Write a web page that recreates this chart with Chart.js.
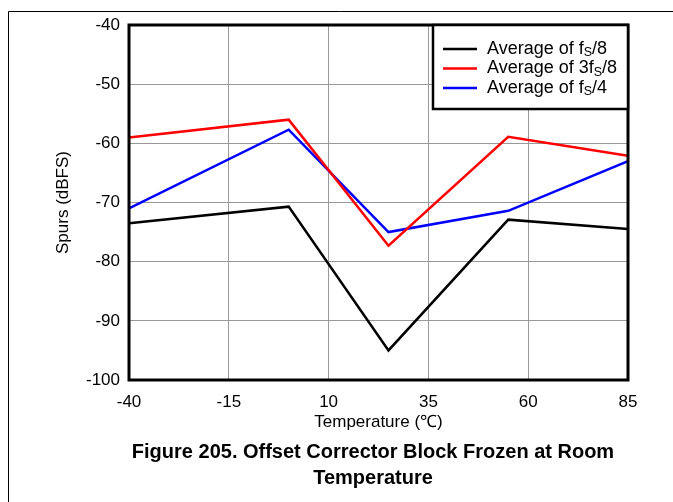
<!DOCTYPE html>
<html>
<head>
<meta charset="utf-8">
<script src="https://cdn.jsdelivr.net/npm/chart.js@4"></script>
<style>
  body { margin: 0; background: #fff; }
  canvas { display: block; }
</style>
</head>
<body>
<canvas id="chart" width="673" height="502"></canvas>
<script>
// temperatures (deg C) and averaged spur levels (dBFS)
const temps = [-40, 0, 25, 55, 85];
const fs8 = [-73.5, -70.7, -95.0, -72.9, -74.5];
const fs38 = [-59.0, -56.0, -77.3, -58.9, -62.1];
const fs4 = [-71.0, -57.7, -75.0, -71.4, -63.0];

// "_S" marks the subscript S in the legend text
const seriesLabels = ['Average of f_S/8', 'Average of 3f_S/8', 'Average of f_S/4'];
const seriesColors = ['#000000', '#ff0000', '#0000ff'];
const xTicks = [-40, -15, 10, 35, 60, 85];
const captionLines = ['Figure 205. Offset Corrector Block Frozen at Room', 'Temperature'];

const FONT = 'Arial, "Liberation Sans", sans-serif';

const toPoints = ys => temps.map((t, i) => ({ x: t, y: ys[i] }));

const frame = {
  id: 'frame',
  beforeDraw(chart) {
    const ctx = chart.ctx;
    ctx.save();
    ctx.fillStyle = '#fff';
    ctx.fillRect(0, 0, chart.width, chart.height);
    ctx.strokeStyle = '#000';
    ctx.lineWidth = 1;
    ctx.beginPath();
    ctx.moveTo(8.5, chart.height);
    ctx.lineTo(8.5, 11.5);
    ctx.lineTo(chart.width, 11.5);
    ctx.stroke();
    ctx.restore();
  },
  afterDatasetsDraw(chart) {
    const { ctx, chartArea: a } = chart;
    ctx.save();
    ctx.strokeStyle = '#000';
    ctx.lineWidth = 3;
    ctx.strokeRect(a.left, a.top, a.right - a.left, a.bottom - a.top);

    // legend box in the top right corner
    const bx = 433, by = a.top, bw = a.right - bx, bh = 84;
    ctx.fillStyle = '#fff';
    ctx.fillRect(bx, by, bw, bh);
    ctx.lineWidth = 2.5;
    ctx.strokeRect(bx, by, bw, bh);
    chart.data.datasets.forEach((ds, i) => {
      const y = by + 24 + i * 19.5;
      ctx.strokeStyle = ds.borderColor;
      ctx.lineWidth = 2.5;
      ctx.beginPath();
      ctx.moveTo(443, y);
      ctx.lineTo(477, y);
      ctx.stroke();
      const parts = ds.label.split('_S');
      ctx.fillStyle = '#000';
      ctx.textBaseline = 'middle';
      ctx.textAlign = 'left';
      let x = 487;
      ctx.font = '18px ' + FONT;
      ctx.fillText(parts[0], x, y);
      x += ctx.measureText(parts[0]).width;
      ctx.font = '12.5px ' + FONT;
      ctx.fillText('S', x, y + 4);
      x += ctx.measureText('S').width;
      ctx.font = '18px ' + FONT;
      ctx.fillText(parts[1], x, y);
    });

    // figure caption
    ctx.fillStyle = '#000';
    ctx.textAlign = 'center';
    ctx.textBaseline = 'middle';
    ctx.font = 'bold 20px ' + FONT;
    captionLines.forEach((line, i) => ctx.fillText(line, 373, 452 + i * 26));
    ctx.restore();
  }
};

new Chart(document.getElementById('chart'), {
  type: 'line',
  data: {
    datasets: [fs8, fs38, fs4].map((ys, i) => ({
      label: seriesLabels[i],
      data: toPoints(ys),
      borderColor: seriesColors[i],
      backgroundColor: seriesColors[i],
      borderWidth: 2.5,
      pointRadius: 0,
      tension: 0,
      fill: false
    }))
  },
  options: {
    responsive: false,
    devicePixelRatio: 1,
    animation: false,
    layout: { padding: { top: 25, right: 45, bottom: 68, left: 0 } },
    plugins: {
      legend: { display: false },
      title: { display: false },
      tooltip: { enabled: false }
    },
    scales: {
      x: {
        type: 'linear',
        min: -40,
        max: 85,
        afterBuildTicks: s => { s.ticks = xTicks.map(v => ({ value: v })); },
        afterFit: s => { s.height = 54; },
        grid: { color: '#999', lineWidth: 1, drawTicks: false },
        border: { display: false },
        ticks: { color: '#000', padding: 12, font: { family: FONT, size: 17 } },
        title: {
          display: true,
          text: 'Temperature (\u2103)',
          color: '#000',
          padding: { top: 0, bottom: 1 },
          font: { family: FONT, size: 17 }
        }
      },
      y: {
        min: -100,
        max: -40,
        afterFit: s => { s.width = 129; },
        grid: { color: '#999', lineWidth: 1, drawTicks: false },
        border: { display: false },
        ticks: { stepSize: 10, color: '#000', padding: 9, font: { family: FONT, size: 17 } },
        title: {
          display: true,
          text: 'Spurs (dBFS)',
          color: '#000',
          padding: { top: 53, bottom: 0 },
          font: { family: FONT, size: 17 }
        }
      }
    }
  },
  plugins: [frame]
});
</script>
</body>
</html>
